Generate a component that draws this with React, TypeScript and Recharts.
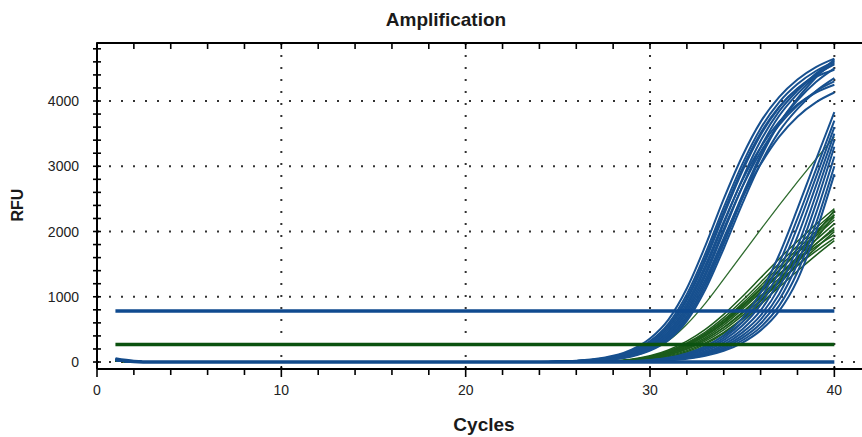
import { LineChart, Line, XAxis, YAxis, ReferenceLine } from "recharts";

const cycles = [1, 2, 3, 24, 25, 26, 27, 28, 29, 30, 31, 32, 33, 34, 35, 36, 37, 38, 39, 40];

const blueThreshold = 780;
const greenThreshold = 270;

const xTicks = [0, 2, 4, 6, 8, 10, 12, 14, 16, 18, 20, 22, 24, 26, 28, 30, 32, 34, 36, 38, 40];
const yTicks = [0, 200, 400, 600, 800, 1000, 1200, 1400, 1600, 1800, 2000, 2200, 2400, 2600, 2800, 3000, 3200, 3400, 3600, 3800, 4000, 4200, 4400, 4600, 4800];
const xGrid = [10, 20, 30, 40];
const yGrid = [0, 1000, 2000, 3000, 4000];

const earlyBlue = [
  [40, 6, 0, 2, 7, 20, 45, 95, 190, 360, 650, 1130, 1780, 2500, 3150, 3680, 4060, 4330, 4520, 4650],
  [40, 6, 0, 2, 6, 17, 40, 85, 170, 320, 590, 1040, 1660, 2370, 3030, 3580, 3980, 4260, 4460, 4600],
  [35, 5, 0, 1, 5, 15, 35, 75, 150, 290, 530, 950, 1550, 2250, 2920, 3480, 3900, 4190, 4400, 4560],
  [35, 5, 0, 1, 4, 13, 30, 65, 130, 255, 470, 860, 1430, 2120, 2800, 3390, 3840, 4160, 4420, 4620],
  [30, 4, 0, 1, 4, 11, 26, 56, 112, 225, 420, 780, 1320, 2000, 2680, 3290, 3770, 4110, 4380, 4580],
  [30, 4, 0, 1, 3, 10, 23, 48, 98, 198, 375, 700, 1210, 1870, 2550, 3170, 3660, 4010, 4290, 4500],
  [30, 4, 0, 0, 2, 8, 20, 42, 86, 175, 335, 630, 1110, 1740, 2420, 3040, 3530, 3880, 4150, 4350],
  [35, 5, 0, 1, 4, 12, 28, 60, 120, 240, 445, 820, 1370, 2040, 2680, 3220, 3630, 3930, 4150, 4300],
  [35, 5, 0, 1, 5, 14, 32, 70, 140, 270, 500, 900, 1480, 2150, 2780, 3290, 3680, 3950, 4130, 4250],
  [30, 4, 0, 1, 3, 11, 25, 52, 105, 210, 395, 740, 1260, 1900, 2520, 3030, 3450, 3760, 3980, 4130],
  [40, 6, 0, 2, 6, 16, 37, 80, 160, 305, 560, 990, 1600, 2300, 2960, 3510, 3910, 4190, 4370, 4480],
  [30, 4, 0, 0, 3, 9, 21, 45, 92, 185, 355, 665, 1160, 1810, 2500, 3130, 3650, 4040, 4360, 4640],
];

const lateBlue = [
  [30, 4, 0, 0, 0, 2, 5, 10, 16, 30, 65, 130, 240, 410, 670, 1060, 1640, 2350, 3100, 3830],
  [30, 4, 0, 0, 0, 1, 4, 8, 14, 27, 58, 115, 215, 370, 610, 970, 1510, 2200, 2950, 3700],
  [30, 4, 0, 0, 0, 1, 3, 7, 12, 24, 52, 103, 193, 335, 555, 880, 1390, 2070, 2830, 3600],
  [30, 4, 0, 0, 0, 1, 3, 6, 10, 20, 45, 90, 170, 300, 500, 790, 1260, 1920, 2700, 3500],
  [30, 4, 0, 0, 0, 1, 2, 5, 9, 18, 40, 80, 150, 268, 450, 715, 1140, 1770, 2560, 3400],
  [30, 4, 0, 0, 0, 0, 2, 4, 8, 16, 36, 72, 135, 240, 405, 650, 1040, 1640, 2420, 3300],
  [30, 4, 0, 0, 0, 0, 2, 4, 7, 14, 32, 64, 120, 215, 365, 590, 950, 1510, 2270, 3150],
  [30, 4, 0, 0, 0, 0, 1, 3, 6, 12, 28, 56, 106, 192, 330, 535, 860, 1380, 2120, 3000],
  [30, 4, 0, 0, 0, 0, 1, 3, 5, 10, 25, 50, 95, 172, 295, 485, 780, 1260, 1990, 2880],
];

const greenCurves = [
  [20, 3, 0, 0, 1, 3, 7, 15, 42, 95, 185, 320, 500, 730, 1000, 1290, 1580, 1850, 2110, 2350],
  [20, 3, 0, 0, 1, 3, 6, 13, 38, 86, 168, 293, 460, 680, 940, 1220, 1510, 1780, 2050, 2300],
  [20, 3, 0, 0, 1, 2, 5, 12, 35, 80, 158, 276, 435, 645, 895, 1170, 1455, 1730, 2000, 2260],
  [20, 3, 0, 0, 1, 2, 5, 11, 32, 75, 148, 262, 415, 615, 860, 1130, 1410, 1690, 1960, 2220],
  [20, 3, 0, 0, 0, 2, 4, 10, 30, 70, 140, 250, 400, 600, 850, 1120, 1400, 1670, 1930, 2180],
  [20, 3, 0, 0, 0, 2, 4, 9, 27, 64, 128, 230, 372, 565, 805, 1065, 1340, 1610, 1870, 2120],
  [20, 3, 0, 0, 0, 1, 3, 8, 25, 58, 118, 213, 348, 530, 760, 1015, 1280, 1550, 1810, 2060],
  [20, 3, 0, 0, 0, 1, 3, 7, 22, 52, 107, 195, 320, 492, 710, 955, 1215, 1480, 1745, 2000],
  [20, 3, 0, 0, 0, 2, 4, 10, 30, 70, 140, 250, 400, 595, 830, 1080, 1330, 1560, 1770, 1950],
  [20, 3, 0, 0, 0, 1, 3, 8, 24, 57, 116, 210, 345, 525, 745, 990, 1240, 1480, 1700, 1900],
  [20, 3, 0, 0, 0, 1, 2, 6, 19, 45, 95, 175, 293, 455, 660, 895, 1145, 1395, 1635, 1860],
  [20, 3, 0, 0, 0, 1, 2, 5, 15, 38, 82, 158, 275, 440, 660, 930, 1240, 1590, 1960, 2330],
  [20, 3, 0, 0, 0, 0, 2, 4, 12, 32, 70, 138, 245, 400, 610, 875, 1180, 1520, 1880, 2250],
  [20, 3, 0, 0, 1, 2, 5, 12, 36, 82, 160, 280, 440, 640, 870, 1110, 1350, 1580, 1810, 2030],
];

const earlyGreen = [20, 3, 0, 0, 2, 6, 15, 40, 90, 180, 330, 580, 900, 1270, 1650, 2030, 2400, 2760, 3110, 3450];

const flatWell = [45, 8, 0, 0, 0, 0, 0, 0, 0, 0, 0, 0, 0, 0, 0, 0, 0, 0, 0, 0];

const BLUE = "#17508f";
const GREEN = "#1c5c1c";

type Curve = { key: string; values: number[]; color: string; width: number };

const curves: Curve[] = [
  ...greenCurves.map((v, i) => ({ key: `g${i}`, values: v, color: GREEN, width: 1.5 })),
  { key: "ge", values: earlyGreen, color: "#2e6b2e", width: 1.3 },
  ...lateBlue.map((v, i) => ({ key: `lb${i}`, values: v, color: BLUE, width: 2 })),
  ...earlyBlue.map((v, i) => ({ key: `eb${i}`, values: v, color: BLUE, width: 2 })),
  { key: "flat", values: flatWell, color: "#124a8a", width: 3.5 },
];

const rows = cycles.map((c, i) => {
  const row: Record<string, number> = { cycle: c, thrBlue: blueThreshold, thrGreen: greenThreshold };
  curves.forEach((s) => {
    row[s.key] = s.values[i];
  });
  return row;
});

const tickFont = { fontFamily: "Liberation Sans, Arial, sans-serif", fontSize: 14, fill: "#222" };

function BottomTick(props: any) {
  const { x, y, payload } = props;
  const major = payload.value % 10 === 0;
  return (
    <g>
      <line x1={x} x2={x} y1={y - (major ? 3 : 1)} y2={y + (major ? 8 : 6)} stroke="#000" strokeWidth={1.6} />
      {major && (
        <text x={x} y={y + 26} textAnchor="middle" {...tickFont}>
          {payload.value}
        </text>
      )}
    </g>
  );
}

function TopTick(props: any) {
  const { x, y } = props;
  return <line x1={x} x2={x} y1={y - 1} y2={y + 6} stroke="#000" strokeWidth={1.6} />;
}

function LeftTick(props: any) {
  const { x, y, payload } = props;
  const major = payload.value % 1000 === 0;
  return (
    <g>
      <line x1={x - 4} x2={x + 4} y1={y} y2={y} stroke="#000" strokeWidth={1.6} />
      {major && (
        <text x={x - 18} y={y + 5} textAnchor="end" {...tickFont}>
          {payload.value}
        </text>
      )}
    </g>
  );
}

const xDomain = [0, 41.5];
const yDomain = [-107, 4889];

export default function App() {
  return (
    <div style={{ position: "absolute", left: 0, top: 0, width: 862, height: 437, background: "#fff", fontFamily: "Liberation Sans, Arial, sans-serif" }}>
      <LineChart width={862} height={437} data={rows} margin={{ top: 13, right: 0, bottom: 38, left: 37 }}>
        <XAxis
          xAxisId="bottom"
          dataKey="cycle"
          type="number"
          domain={xDomain}
          allowDataOverflow
          ticks={xTicks}
          interval={0}
          tickSize={0}
          tickMargin={0}
          tickLine={false}
          tick={(p: any) => <BottomTick {...p} />}
          axisLine={{ stroke: "#000", strokeWidth: 2 }}
          height={30}
        />
        <XAxis
          xAxisId="top"
          orientation="top"
          dataKey="cycle"
          type="number"
          domain={xDomain}
          allowDataOverflow
          ticks={xTicks}
          interval={0}
          tickSize={0}
          tickMargin={0}
          tickLine={false}
          tick={(p: any) => <TopTick {...p} />}
          axisLine={{ stroke: "#000", strokeWidth: 2 }}
          height={30}
        />
        <YAxis
          type="number"
          domain={yDomain}
          allowDataOverflow
          ticks={yTicks}
          interval={0}
          tickSize={0}
          tickMargin={0}
          tickLine={false}
          tick={(p: any) => <LeftTick {...p} />}
          axisLine={{ stroke: "#000", strokeWidth: 2 }}
          width={60}
        />
        {xGrid.map((v) => (
          <ReferenceLine key={`vx${v}`} xAxisId="bottom" x={v} stroke="#333" strokeWidth={2} strokeDasharray="2 10" />
        ))}
        {yGrid.map((v) => (
          <ReferenceLine key={`hy${v}`} xAxisId="bottom" y={v} stroke="#333" strokeWidth={2} strokeDasharray="2 10" />
        ))}
        {curves.map((s) => (
          <Line
            key={s.key}
            xAxisId="bottom"
            dataKey={s.key}
            type="monotone"
            stroke={s.color}
            strokeWidth={s.width}
            dot={false}
            activeDot={false}
            isAnimationActive={false}
          />
        ))}
        <Line xAxisId="bottom" dataKey="thrGreen" type="linear" stroke="#0b520f" strokeWidth={3.5} dot={false} activeDot={false} isAnimationActive={false} />
        <Line xAxisId="bottom" dataKey="thrBlue" type="linear" stroke="#0f4a8f" strokeWidth={3.5} dot={false} activeDot={false} isAnimationActive={false} />
      </LineChart>
      <svg width={862} height={437} style={{ position: "absolute", left: 0, top: 0, pointerEvents: "none" }}>
        <text x={446} y={26} textAnchor="middle" fontFamily="Liberation Sans, Arial, sans-serif" fontWeight="bold" fontSize={19} fill="#1a1a1a">
          Amplification
        </text>
        <text x={484} y={431} textAnchor="middle" fontFamily="Liberation Sans, Arial, sans-serif" fontWeight="bold" fontSize={19} fill="#1a1a1a">
          Cycles
        </text>
        <text x={23} y={205} transform="rotate(-90 23 205)" textAnchor="middle" fontFamily="Liberation Sans, Arial, sans-serif" fontWeight="bold" fontSize={16} fill="#1a1a1a">
          RFU
        </text>
      </svg>
    </div>
  );
}
